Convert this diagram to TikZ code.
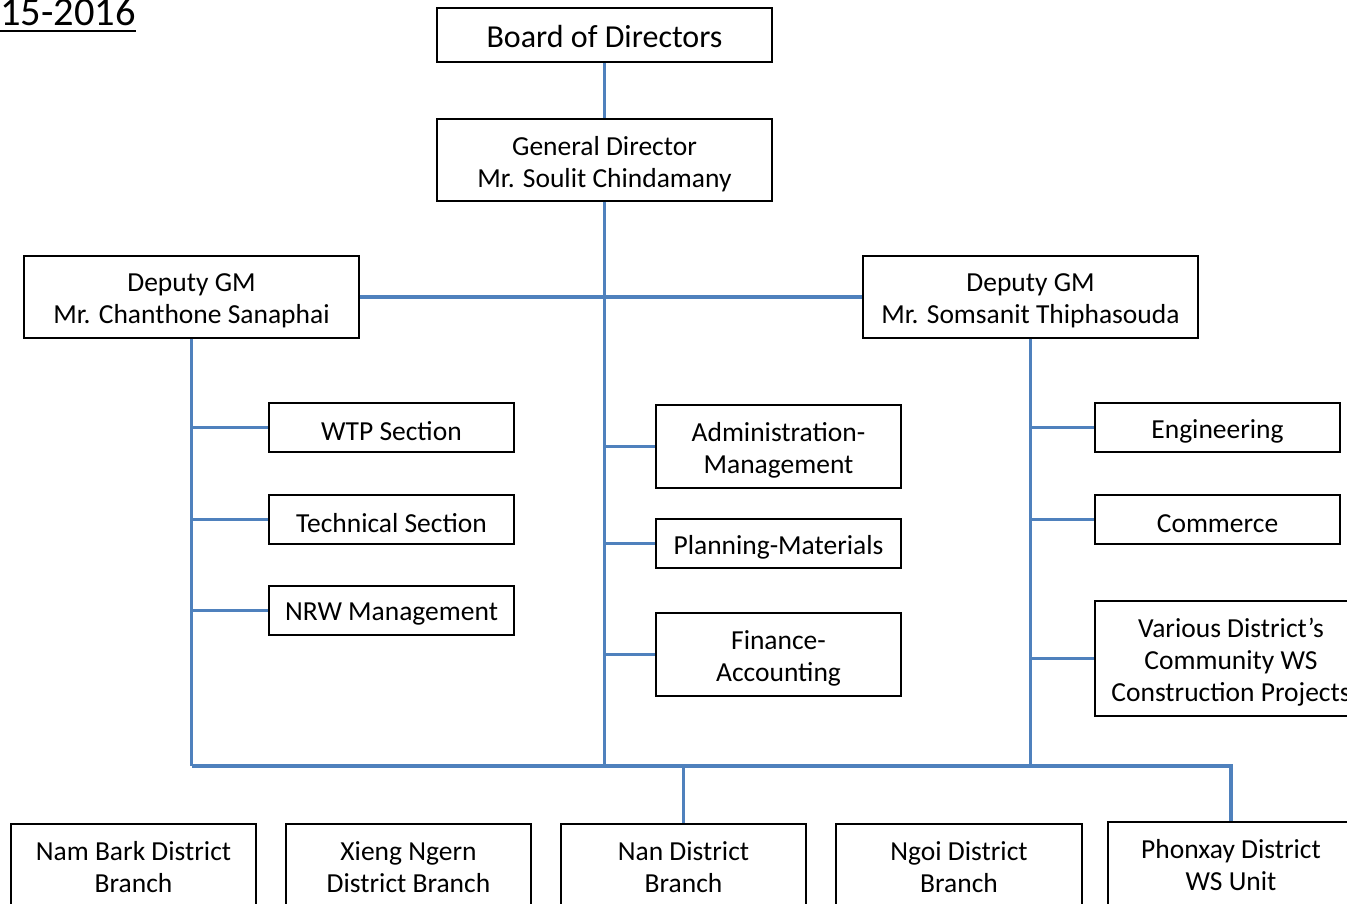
\documentclass[tikz,border=0pt]{standalone}
\usepackage{fontspec}
\setmainfont{Carlito}
\definecolor{linkblue}{HTML}{4F81BD}
\begin{document}
\begin{tikzpicture}[x=1pt,y=-1pt,
  txt/.style={align=center,inner sep=0pt,text=black,font=\fontsize{27.5}{32}\selectfont},
  box/.style={draw=black,line width=1.8pt,rectangle,inner sep=0pt,
    label={[txt,yshift=-4pt]center:{#1}}},
  lowbox/.style={draw=black,line width=1.8pt,rectangle,inner sep=0pt,
    label={[txt]center:{#1}}},
  link/.style={draw=linkblue,line width=3.5pt}]
\useasboundingbox (0,0) rectangle (1347,904);
\clip (0,0) rectangle (1347,904);

% title
\node[anchor=base west,inner sep=0pt,font=\fontsize{40.5}{48}\selectfont] (title) at (0,26) {15-2016};
\draw[line width=2.6pt] ([yshift=-5pt]title.base west) -- ([yshift=-5pt]title.base east);

% top levels
\node[draw=black,line width=1.8pt,inner sep=0pt,minimum width=335pt,minimum height=54pt,
  label={[txt,yshift=-2pt,font=\fontsize{32}{38}\selectfont]center:{Board of Directors}}] (board) at (604.5,35) {};
\node[box={General Director\\Mr. Soulit Chindamany},minimum width=335pt,minimum height=82pt] (gd) at (604.5,160) {};
\node[box={Deputy GM\\Mr. Chanthone Sanaphai},minimum width=335pt,minimum height=82pt] (dl) at (191.5,297) {};
\node[box={Deputy GM\\Mr. Somsanit Thiphasouda},minimum width=335pt,minimum height=82pt] (dr) at (1030.5,297) {};

% left sections
\node[box={WTP Section},minimum width=245pt,minimum height=49pt] (wtp) at (391.5,427.5) {};
\node[box={Technical Section},minimum width=245pt,minimum height=49pt] (tech) at (391.5,519.5) {};
\node[box={NRW Management},minimum width=245pt,minimum height=49pt] (nrw) at (391.5,610.5) {};

% centre sections
\node[box={Administration-\\Management},minimum width=245pt,minimum height=83pt] (admin) at (778.5,446.5) {};
\node[box={Planning-Materials},minimum width=245pt,minimum height=49pt] (plan) at (778.5,543.5) {};
\node[box={Finance-\\Accounting},minimum width=245pt,minimum height=83pt] (fin) at (778.5,654.5) {};

% right sections
\node[box={Engineering},minimum width=245pt,minimum height=49pt] (eng) at (1217.5,427.5) {};
\node[box={Commerce},minimum width=245pt,minimum height=49pt] (com) at (1217.5,519.5) {};
\node[box={Various District’s\\Community WS\\Construction Projects},minimum width=272pt,minimum height=115pt] (var) at (1231,658.5) {};

% branches
\node[lowbox={Nam Bark District\\Branch},minimum width=245pt,minimum height=86pt] (nam) at (133.5,867) {};
\node[lowbox={Xieng Ngern\\District Branch},minimum width=245pt,minimum height=86pt] (xie) at (408.5,867) {};
\node[lowbox={Nan District\\Branch},minimum width=245pt,minimum height=86pt] (nan) at (683.5,867) {};
\node[lowbox={Ngoi District\\Branch},minimum width=246pt,minimum height=86pt] (ngo) at (959,867) {};
\node[lowbox={Phonxay District\\WS Unit},minimum width=246pt,minimum height=86pt] (pho) at (1231,865) {};

% bus lines
\coordinate (bus) at (604,766);

\draw[link] (board.south) -- (gd.north);
\draw[link] (gd.south) -- (gd.south |- bus);
\draw[link] (dl.east) -- (dr.west);
\draw[link] (dl.south) -- (dl.south |- bus);
\draw[link] (dr.south) -- (dr.south |- bus);
\draw[link] (dl.south |- bus) -- (pho.north |- bus) -- (pho.north);
\draw[link] (nan.north |- bus) -- (nan.north);

\draw[link] (wtp.west -| dl.south) -- (wtp.west);
\draw[link] (tech.west -| dl.south) -- (tech.west);
\draw[link] (nrw.west -| dl.south) -- (nrw.west);

\draw[link] (admin.west -| gd.south) -- (admin.west);
\draw[link] (plan.west -| gd.south) -- (plan.west);
\draw[link] (fin.west -| gd.south) -- (fin.west);

\draw[link] (eng.west -| dr.south) -- (eng.west);
\draw[link] (com.west -| dr.south) -- (com.west);
\draw[link] (var.west -| dr.south) -- (var.west);
\end{tikzpicture}
\end{document}
